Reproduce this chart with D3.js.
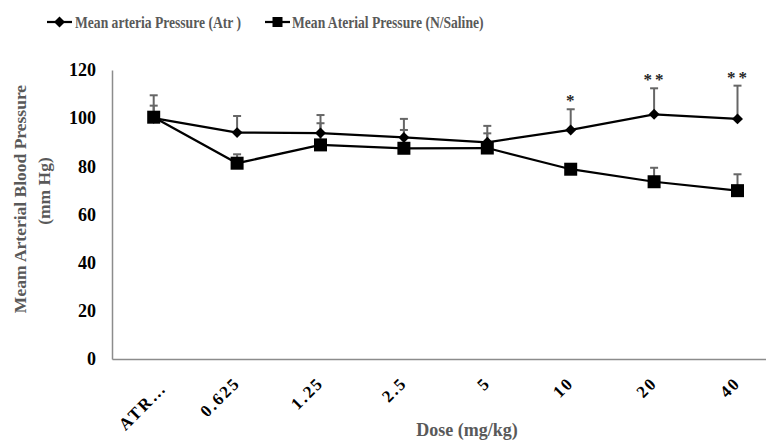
<!DOCTYPE html>
<html>
<head>
<meta charset="utf-8">
<script src="https://cdn.jsdelivr.net/npm/d3@7"></script>
<style>
  body { margin: 0; background: #fff; }
  svg { display: block; font-family: "Liberation Serif", "Times New Roman", serif; font-weight: bold; }
</style>
</head>
<body>
<script>
// data
var doses = ["ATR…", "0.625", "1.25", "2.5", "5", "10", "20", "40"];
var atrMean = [100, 94.0, 93.8, 92.0, 90.0, 95.1, 101.6, 99.7];
var atrErr = [9.5, 6.9, 7.5, 7.7, 6.8, 8.6, 10.8, 13.8];
var salMean = [100.4, 81.3, 88.9, 87.5, 87.6, 78.8, 73.6, 69.9];
var salErr = [4.8, 3.7, 9.0, 7.6, 6.1, 0, 5.8, 6.8];
var stars = ["", "", "", "", "", "*", "**", "**"];
var yTicks = [0, 20, 40, 60, 80, 100, 120];

var svgWidth = 766, svgHeight = 442;
var plotLeft = 112, plotTop = 70, plotBottom = 359;

var svg = d3.select("body").append("svg")
    .attr("width", svgWidth)
    .attr("height", svgHeight);

var x = d3.scaleBand()
    .domain(doses)
    .range([plotLeft, plotLeft + 8 * 83.4]);

var y = d3.scaleLinear()
    .domain([0, 120])
    .range([plotBottom, plotTop]);

var cx = d => x(d) + x.bandwidth() / 2;

// axes
var yAxis = svg.append("g")
    .attr("transform", `translate(${plotLeft},0)`)
    .call(d3.axisLeft(y).tickValues(yTicks).tickSize(0).tickPadding(16));
yAxis.select(".domain").attr("stroke", "#8c8c8c").attr("stroke-width", 1.5);
yAxis.selectAll("text")
    .attr("font-size", "18px")
    .attr("font-family", "Liberation Serif")
    .attr("font-weight", "bold")
    .attr("fill", "#000");

var xAxis = svg.append("g")
    .attr("transform", `translate(0,${plotBottom})`)
    .call(d3.axisBottom(x).tickSize(0).tickSizeOuter(0));
xAxis.select(".domain").attr("stroke", "#8c8c8c").attr("stroke-width", 1.5);
xAxis.selectAll("text")
    .attr("font-size", "17px")
    .attr("font-family", "Liberation Serif")
    .attr("font-weight", "bold")
    .attr("fill", "#000")
    .attr("letter-spacing", "2px")
    .attr("text-anchor", "end")
    .attr("dy", null)
    .attr("y", 0)
    .attr("transform", d => d === "ATR…" ? "translate(14,30) rotate(-45)" : "translate(4,25) rotate(-45)");

// axis titles
svg.append("text")
    .attr("transform", "translate(26,199) rotate(-90)")
    .attr("text-anchor", "middle")
    .attr("font-size", "17.5px")
    .attr("fill", "#595959")
    .text("Meam Arterial Blood Pressure");
svg.append("text")
    .attr("transform", "translate(50,191) rotate(-90)")
    .attr("text-anchor", "middle")
    .attr("font-size", "17.5px")
    .attr("fill", "#595959")
    .text("(mm Hg)");
svg.append("text")
    .attr("x", 467)
    .attr("y", 436)
    .attr("text-anchor", "middle")
    .attr("font-size", "18px")
    .attr("fill", "#595959")
    .text("Dose (mg/kg)");

// error bars (upper only)
function errorBars(means, errs) {
    var g = svg.append("g").attr("stroke", "#666").attr("stroke-width", 2);
    doses.forEach(function (d, i) {
        if (!errs[i]) return;
        var x0 = cx(d), y0 = y(means[i]), y1 = y(means[i] + errs[i]);
        g.append("line").attr("x1", x0).attr("x2", x0).attr("y1", y0).attr("y2", y1);
        g.append("line").attr("x1", x0 - 4).attr("x2", x0 + 4).attr("y1", y1).attr("y2", y1);
    });
}
errorBars(atrMean, atrErr);
errorBars(salMean, salErr);

var line = d3.line()
    .x((d, i) => cx(doses[i]))
    .y(d => y(d));

var diamond = d3.symbol().type(d3.symbolSquare).size(60);
var square = d3.symbol().type(d3.symbolSquare).size(169);

// series 1: Atr
svg.append("path")
    .datum(atrMean)
    .attr("d", line)
    .attr("fill", "none")
    .attr("stroke", "#000")
    .attr("stroke-width", 2.25);
svg.selectAll(".dia")
    .data(atrMean)
    .enter().append("path")
    .attr("class", "dia")
    .attr("d", diamond)
    .attr("transform", (d, i) => `translate(${cx(doses[i])},${y(d)}) rotate(45)`)
    .attr("fill", "#000");

// series 2: N/Saline
svg.append("path")
    .datum(salMean)
    .attr("d", line)
    .attr("fill", "none")
    .attr("stroke", "#000")
    .attr("stroke-width", 2.25);
svg.selectAll(".sq")
    .data(salMean)
    .enter().append("path")
    .attr("class", "sq")
    .attr("d", square)
    .attr("transform", (d, i) => `translate(${cx(doses[i])},${y(d)})`)
    .attr("fill", "#000");

// significance stars
svg.selectAll(".star")
    .data(stars)
    .enter().append("text")
    .attr("class", "star")
    .attr("x", (d, i) => cx(doses[i]) + 1)
    .attr("y", (d, i) => y(atrMean[i] + atrErr[i]) - 3)
    .attr("text-anchor", "middle")
    .attr("font-size", "17px")
    .attr("letter-spacing", "3px")
    .attr("fill", "#262626")
    .text(d => d);

// legend
var legend = svg.append("g").attr("transform", "translate(0,22)");
legend.append("line").attr("x1", 47).attr("x2", 72).attr("stroke", "#000").attr("stroke-width", 2.25);
legend.append("path").attr("d", diamond).attr("transform", "translate(59.5,0) rotate(45)");
legend.append("text").attr("transform", "translate(75,5.5) scale(0.85,1)").attr("font-size", "16px").attr("fill", "#595959")
    .text("Mean arteria Pressure (Atr )");
legend.append("line").attr("x1", 265).attr("x2", 290).attr("stroke", "#000").attr("stroke-width", 2.25);
legend.append("path").attr("d", d3.symbol().type(d3.symbolSquare).size(100)).attr("transform", "translate(277.5,0)");
legend.append("text").attr("transform", "translate(292,5.5) scale(0.85,1)").attr("font-size", "16px").attr("fill", "#595959")
    .text("Mean Aterial Pressure (N/Saline)");
</script>
</body>
</html>
